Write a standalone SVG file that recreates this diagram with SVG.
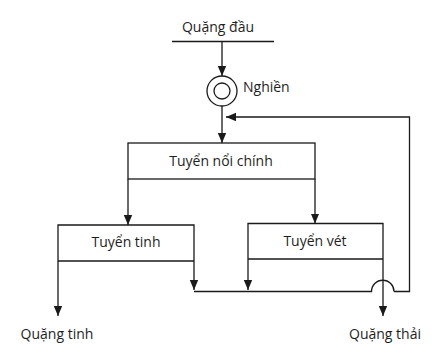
<svg xmlns="http://www.w3.org/2000/svg" width="448" height="357" viewBox="0 0 448 357">
<defs>
<marker id="ah" viewBox="0 0 10 10" refX="10" refY="5" markerWidth="10" markerHeight="10" markerUnits="userSpaceOnUse" orient="auto">
<path d="M0,0.8 L10,5 L0,9.2 Z" fill="#1a1a1a"/>
</marker>
<style>
.ln{fill:none;stroke:#1a1a1a;stroke-width:1.3}
.t{font-family:"Open Sans","Liberation Sans",sans-serif;font-size:14px;fill:#1e1e1e;text-anchor:middle}
</style>
</defs>
<rect width="448" height="357" fill="#fff"/>
<g id="quang-dau">
<line class="ln" x1="172" y1="41.5" x2="274" y2="41.5"/>
<text class="t" x="218" y="32">Quặng đầu</text>
</g>
<g id="nghien">
<circle class="ln" cx="222" cy="91" r="15"/>
<circle class="ln" cx="222" cy="91" r="8"/>
<text class="t" x="243" y="92" style="text-anchor:start">Nghiền</text>
</g>
<g id="tuyen-noi-chinh">
<rect class="ln" x="128" y="143" width="187" height="36"/>
<text class="t" x="221" y="166">Tuyển nổi chính</text>
</g>
<g id="tuyen-tinh">
<path class="ln" d="M58,261 V225 H194 V261 M58,261 H194"/>
<text class="t" x="126" y="247">Tuyển tinh</text>
</g>
<g id="tuyen-vet">
<path class="ln" d="M248,259 V223.5 H383 V259 M248,259 H383"/>
<text class="t" x="315" y="246">Tuyển vét</text>
</g>
<g id="quang-tinh">
<text class="t" x="57" y="339">Quặng tinh</text>
</g>
<g id="quang-thai">
<text class="t" x="385" y="339">Quặng thải</text>
</g>
<g id="connectors">
<line class="ln" x1="222" y1="41.5" x2="222" y2="76" marker-end="url(#ah)"/>
<line class="ln" x1="222" y1="106" x2="222" y2="143" marker-end="url(#ah)"/>
<path class="ln" d="M394,291.5 H409.5 V117 H226" marker-end="url(#ah)"/>
<line class="ln" x1="128" y1="179" x2="128" y2="225" marker-end="url(#ah)"/>
<line class="ln" x1="315" y1="179" x2="315" y2="223.5" marker-end="url(#ah)"/>
<line class="ln" x1="58" y1="261" x2="58" y2="316" marker-end="url(#ah)"/>
<line class="ln" x1="194" y1="261" x2="194" y2="290" marker-end="url(#ah)"/>
<line class="ln" x1="248" y1="259" x2="248" y2="290" marker-end="url(#ah)"/>
<path class="ln" d="M194,291.5 H371.5 A11.25,11.25 0 0 1 394,291.5"/>
<line class="ln" x1="383" y1="259" x2="383" y2="316" marker-end="url(#ah)"/>
</g>
</svg>
